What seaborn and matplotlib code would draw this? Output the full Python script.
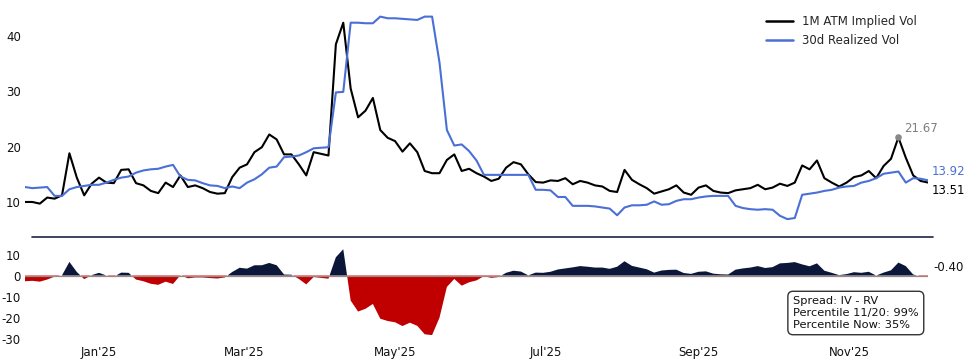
import numpy as np
import pandas as pd
import matplotlib
matplotlib.use("Agg")
import matplotlib.pyplot as plt
import seaborn as sns
from matplotlib.lines import Line2D

# ---------------- data ----------------
start_date = "2024-12-02"
step_days = 3

iv = [10.0, 10.0, 9.7, 10.8, 10.6, 11.2, 18.8, 14.4, 11.2, 13.3,
      14.4, 13.5, 13.4, 15.8, 15.9, 13.4, 13.0, 12.0, 11.6, 13.5,
      12.7, 14.8, 12.7, 13.0, 12.5, 11.8, 11.5, 11.6, 14.5, 16.2,
      16.8, 19.0, 19.9, 22.2, 21.3, 18.6, 18.6, 16.8, 14.8, 19.0,
      18.7, 18.4, 38.5, 42.4, 30.5, 25.3, 26.5, 28.8, 23.0, 21.6,
      21.0, 19.1, 20.6, 19.0, 15.6, 15.2, 15.2, 17.6, 18.6, 15.6,
      16.0, 15.2, 14.6, 13.8, 14.2, 16.2, 17.2, 16.8, 15.0, 13.6,
      13.5, 13.9, 13.8, 14.3, 13.2, 13.8, 13.5, 13.0, 12.8, 12.0,
      11.8, 15.8, 14.0, 13.2, 12.5, 11.5, 11.9, 12.3, 13.0, 11.7,
      11.3, 12.6, 13.0, 12.0, 11.7, 11.6, 12.1, 12.3, 12.5, 13.1,
      12.3, 12.6, 13.3, 12.9, 13.5, 16.6, 15.9, 17.5, 14.3, 13.5,
      12.8, 13.5, 14.5, 14.8, 15.6, 14.3, 16.5, 17.8, 21.67, 18.0,
      14.8, 13.8, 13.514]

rv = [12.7, 12.5, 12.6, 12.7, 11.1, 11.1, 12.3, 12.7, 12.9, 13.1,
      13.1, 13.5, 14.0, 14.4, 14.6, 15.3, 15.7, 15.9, 16.0, 16.4,
      16.7, 14.6, 14.0, 13.9, 13.4, 13.0, 12.9, 12.5, 12.8, 12.5,
      13.5, 14.1, 15.0, 16.2, 16.4, 18.1, 18.2, 18.4, 19.0, 19.7,
      19.8, 19.9, 29.8, 29.9, 42.4, 42.4, 42.3, 42.3, 43.5, 43.2,
      43.2, 43.1, 43.0, 42.9, 43.5, 43.5, 35.2, 23.0, 20.2, 20.4,
      19.2, 17.5, 14.9, 14.9, 14.9, 14.9, 14.9, 14.9, 14.9, 12.2,
      12.2, 12.1, 10.9, 10.9, 9.3, 9.3, 9.3, 9.2, 9.0, 8.8,
      7.6, 9.0, 9.4, 9.4, 9.5, 10.1, 9.5, 9.6, 10.2, 10.5,
      10.5, 10.8, 11.0, 11.1, 11.1, 11.1, 9.3, 8.9, 8.7, 8.6,
      8.7, 8.6, 7.5, 6.9, 7.1, 11.3, 11.5, 11.7, 12.0, 12.2,
      12.6, 12.8, 12.9, 13.5, 13.8, 14.3, 15.1, 15.3, 15.5, 13.5,
      14.3, 14.2, 13.9175]

series_names = ["1M ATM Implied Vol", "30d Realized Vol"]
tick_dates = ["2025-01-01", "2025-03-01", "2025-05-01", "2025-07-01",
              "2025-09-01", "2025-11-01"]
tick_labels = ["Jan'25", "Mar'25", "May'25", "Jul'25", "Sep'25", "Nov'25"]
box_lines = ["Spread: IV - RV", "Percentile 11/20: 99%", "Percentile Now: 35%"]

# ---------------- build ----------------
dates = pd.date_range(start_date, periods=len(iv), freq=f"{step_days}D")
iv_a = np.array(iv)
rv_a = np.array(rv)
spread = iv_a - rv_a

df = pd.DataFrame({"date": dates, series_names[0]: iv_a, series_names[1]: rv_a})
long = df.melt(id_vars="date", var_name="series", value_name="vol")

sns.set_style("white")
plt.rcParams["font.family"] = ["DejaVu Sans"]
plt.rcParams["axes.unicode_minus"] = False

W, H = 970, 362
fig = plt.figure(figsize=(W / 100, H / 100), dpi=100)

def fx(px):
    return px / W

def fy(py):
    return 1 - py / H

ax1 = fig.add_axes([fx(25), fy(237), fx(903), (237 - 5) / H])
ax2 = fig.add_axes([fx(25), fy(345), fx(903), (345 - 244) / H])

NAVY = "#0b1638"
RED = "#c00000"
BLUE = "#4a6fd6"
palette = {series_names[0]: "black", series_names[1]: BLUE}

sns.lineplot(data=long, x="date", y="vol", hue="series", palette=palette,
             ax=ax1, linewidth=1.5)

xmin, xmax = dates[0], dates[-1]
for ax in (ax1, ax2):
    ax.set_xlim(xmin, xmax)
    for s in ax.spines.values():
        s.set_visible(False)
    ax.set_xlabel("")
    ax.set_ylabel("")
    ax.tick_params(length=0, labelsize=8.5, colors="#111111", pad=3)

ax1.set_ylim(3.67, 45.6)
ax1.set_yticks([10, 20, 30, 40])
ax1.set_xticks([])

leg = ax1.legend(frameon=False, loc="upper right", fontsize=8.5,
                 bbox_to_anchor=(fx(922), fy(10)), bbox_transform=fig.transFigure,
                 borderaxespad=0, handlelength=2.3, handletextpad=0.8,
                 labelspacing=0.55)
for h in leg.get_lines():
    h.set_linewidth(1.8)

# end labels and peak
ax1.annotate(f"{rv[-1]:.2f}", xy=(dates[-1], rv[-1]), xytext=(4, 9),
             textcoords="offset pixels", color=BLUE, fontsize=8.5,
             ha="left", va="center", annotation_clip=False)
ax1.annotate(f"{iv[-1]:.2f}", xy=(dates[-1], iv[-1]), xytext=(4, -8),
             textcoords="offset pixels", color="black", fontsize=8.5,
             ha="left", va="center", annotation_clip=False)
pk = int(np.argmax(iv_a[100:]) + 100)
ax1.scatter([dates[pk]], [iv_a[pk]], s=14, color="#888888", zorder=5)
ax1.annotate(f"{iv_a[pk]:.2f}", xy=(dates[pk], iv_a[pk]), xytext=(6, 9),
             textcoords="offset pixels", color="#808080", fontsize=8.5,
             ha="left", va="center")

# spread panel
ax2.fill_between(dates, spread, 0, where=spread >= 0, interpolate=True,
                 color=NAVY, linewidth=0)
ax2.fill_between(dates, spread, 0, where=spread < 0, interpolate=True,
                 color=RED, linewidth=0)
ax2.axhline(0, color="#a08585", linewidth=0.9, zorder=3)
ax2.set_ylim(-33, 15)
ax2.set_yticks([-30, -20, -10, 0, 10])
ax2.set_xticks(pd.to_datetime(tick_dates))
ax2.set_xticklabels(tick_labels)
ax2.tick_params(axis="x", pad=1)
ax2.annotate(f"{spread[-1]:.2f}", xy=(dates[-1], spread[-1]), xytext=(5, 9),
             textcoords="offset pixels", color="#111111", fontsize=8.5,
             ha="left", va="center", annotation_clip=False)

fig.text(fx(793), fy(313), "\n".join(box_lines), fontsize=8.2, ha="left",
         va="center", color="#111111",
         bbox=dict(boxstyle="round,pad=0.45", fc="white", ec="#333333", lw=1))

fig.add_artist(Line2D([fx(32), fx(933)], [fy(237), fy(237)],
                      color="#1c2541", linewidth=1.2))

fig.savefig("out.png", dpi=100)
